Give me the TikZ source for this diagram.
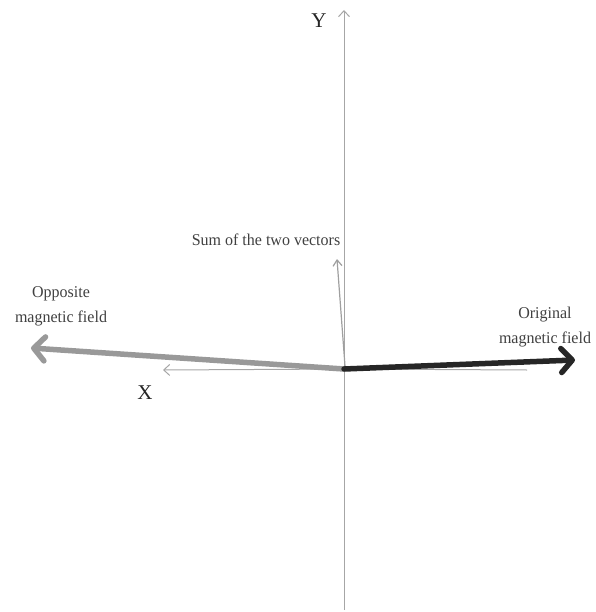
\documentclass[tikz,border=0pt]{standalone}
\usepackage{fontspec}
\setmainfont{Liberation Serif}
\usetikzlibrary{arrows.meta}
\begin{document}
\begin{tikzpicture}[x=1pt,y=-1pt,
  axis/.style={draw=gray!70, line width=1pt, -{Straight Barb[length=6pt,width=11pt]}},
  thickvec/.style={line width=5.5pt, line cap=round, -{Straight Barb[length=11pt,width=24pt,line cap=round, line join=round]}},
  lbl/.style={font=\fontsize{16.5}{20}\selectfont, text=black!75, align=center, inner sep=0pt, xscale=0.97},
  axlbl/.style={font=\fontsize{21}{23}\selectfont, text=black!85, inner sep=0pt}]
\useasboundingbox (0,0) rectangle (595,612);
\coordinate (O) at (344,369);
\coordinate (ybot) at (344,610);
\coordinate (ytop) at (344,10);
\coordinate (xright) at (527,370);
\coordinate (xleft) at (163,370);
\draw[draw=gray!70, line width=1pt] (ybot) -- (O);
\draw[axis] (O) -- (ytop);
\draw[draw=gray!70, line width=1pt] (xright) -- (O);
\draw[axis] (O) -- (xleft);
\node[axlbl] (ylab) at (319,21) {Y};
\node[axlbl] (xlab) at (145,393) {X};
\coordinate (origtip) at (575,360);
\coordinate (opptip) at (31,348);
\coordinate (sumtip) at (337,259);
\coordinate (sumbase) at (345,366);
\draw[thickvec, draw=gray!80] (O) -- (opptip);
\draw[thickvec, draw=black!85] (O) -- (origtip);
\draw[draw=gray!75, line width=1.2pt, -{Straight Barb[length=6pt,width=9pt]}] (sumbase) -- (sumtip);
\node[lbl] (sumlab) at (266,240) {Sum of the two vectors};
\node[lbl] (opplab) at (61,306) {Opposite\\[5pt]magnetic field};
\node[lbl] (origlab) at (545,327) {Original\\[5pt]magnetic field};
\end{tikzpicture}
\end{document}
